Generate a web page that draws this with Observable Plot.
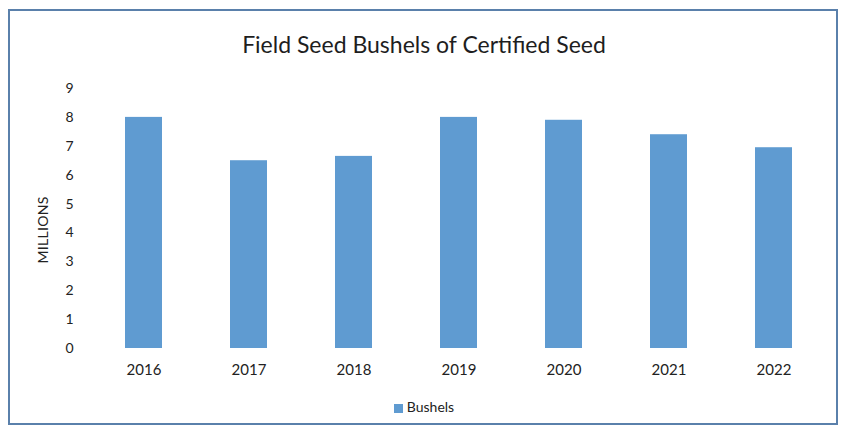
<!DOCTYPE html>
<html>
<head>
<meta charset="utf-8">
<script src="https://cdn.jsdelivr.net/npm/d3@7"></script>
<script src="https://cdn.jsdelivr.net/npm/@observablehq/plot@0.6"></script>
<style>
  html, body { margin: 0; padding: 0; background: #fff; }
  #wrap { position: relative; width: 848px; height: 430px; overflow: hidden; font-family: Lato, "Open Sans", sans-serif; color: #222; }
  #frame { position: absolute; left: 8px; top: 9px; width: 826px; height: 412px; border: 2px solid #5a80ab; box-sizing: content-box; }
  #title { position: absolute; left: 0; width: 848px; top: 30px; text-align: center; font-size: 23px; color: #1e1e1e; }
  #ylabel { position: absolute; left: 42px; top: 230px; transform: translate(-50%, -50%) rotate(-90deg); font-size: 14px; letter-spacing: 0.3px; color: #222; }
  #chart { position: absolute; left: 0; top: 70px; }
  #legend { position: absolute; left: 0; width: 848px; top: 398px; text-align: center; font-size: 14px; color: #222; }
  #legend .sw { display: inline-block; width: 9px; height: 9px; background: #5f9bd1; margin-right: 4px; vertical-align: -1px; }
</style>
</head>
<body>
<div id="wrap">
  <div id="frame"></div>
  <div id="title">Field Seed Bushels of Certified Seed</div>
  <div id="ylabel">MILLIONS</div>
  <div id="chart"></div>
  <div id="legend"></div>
</div>
<script>
const years = ["2016", "2017", "2018", "2019", "2020", "2021", "2022"];
const bushels = [8.0, 6.5, 6.65, 8.0, 7.9, 7.4, 6.95];
const yTicks = [0, 1, 2, 3, 4, 5, 6, 7, 8, 9];
const seriesName = "Bushels";
const barColor = "#5f9bd1";

const data = years.map((y, i) => ({year: y, value: bushels[i]}));

const chart = Plot.plot({
  width: 848,
  height: 310,
  marginTop: 18,
  marginBottom: 32,
  marginLeft: 88,
  marginRight: 20,
  style: {fontFamily: "Lato, 'Open Sans', sans-serif", fontSize: "14px", color: "#222", background: "transparent"},
  x: {domain: years, paddingInner: 0.65, paddingOuter: 0.325, label: null},
  y: {domain: [0, 9], label: null},
  marks: [
    Plot.barY(data, {x: "year", y: "value", fill: barColor}),
    Plot.axisX({tickSize: 0, tickPadding: 16, label: null, fontSize: 15}),
    Plot.axisY({ticks: yTicks, tickSize: 0, tickPadding: 15, label: null, fontSize: 14, tickFormat: d3.format("d")})
  ]
});
document.getElementById("chart").appendChild(chart);

const legend = document.getElementById("legend");
legend.innerHTML = `<span class="sw"></span>${seriesName}`;
</script>
</body>
</html>
